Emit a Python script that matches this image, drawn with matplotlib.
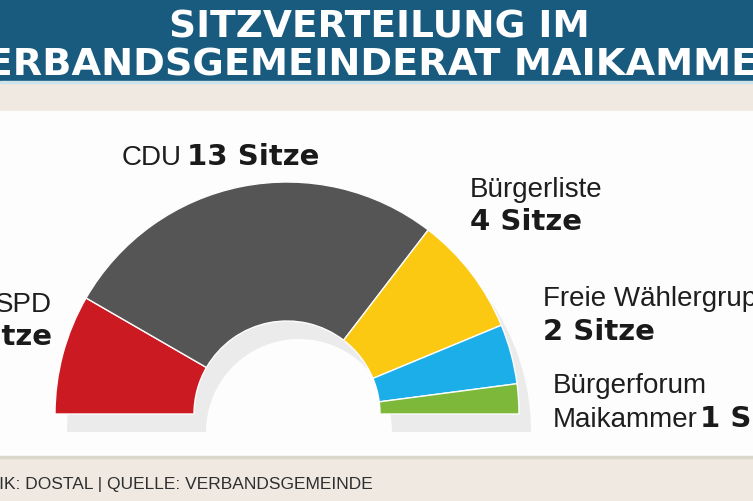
import matplotlib.pyplot as plt
from matplotlib.patches import Rectangle

# seat distribution
parties = ["SPD", "CDU", "Bürgerliste", "Freie Wählergruppe", "Bürgerforum\nMaikammer"]
seats = [4, 13, 4, 2, 1]
colors = ["#cc1a22", "#555556", "#fbc911", "#1baee9", "#7db83a"]
seat_labels = ["4 Sitze", "13 Sitze", "4 Sitze", "2 Sitze", "1 Sitz"]

title1 = "SITZVERTEILUNG IM"
title2 = "VERBANDSGEMEINDERAT MAIKAMMER"
source = "GRAFIK: DOSTAL | QUELLE: VERBANDSGEMEINDE"

W, H = 753, 502
fig = plt.figure(figsize=(7.53, 5.02), dpi=100)
fig.patch.set_facecolor("#efe9e2")
ax = fig.add_axes([0, 0, 1, 1])

# background pieces (pixel coords, y up)
ax.add_patch(Rectangle((0, H - 82), W, 82, color="#185b7f", zorder=0))
ax.add_patch(Rectangle((0, H - 84), W, 2, color="#cfe3ea", zorder=0))
ax.add_patch(Rectangle((0, 45), W, H - 112 - 45, color="#fdfdfd", zorder=0))
ax.add_patch(Rectangle((0, 43), W, 2, color="#d9d7c8", zorder=0))

total = sum(seats)
cx, cy, r_out, r_in = 287, 87, 232, 93

# shadow
sh, _ = ax.pie([total, total], colors=["#ebebeb", "none"], startangle=180,
               counterclock=False, radius=r_out, center=(cx + 12, cy - 18),
               wedgeprops=dict(width=r_out - r_in, linewidth=0), frame=True)
for w in sh:
    w.set_zorder(1)

# half donut: an invisible half fills the lower part
wedges, _ = ax.pie(seats + [total], colors=colors + ["none"], startangle=180,
                   counterclock=False, radius=r_out, center=(cx, cy),
                   wedgeprops=dict(width=r_out - r_in, edgecolor="#fdfdfd", linewidth=1),
                   frame=True)
for w in wedges:
    w.set_zorder(2)
wedges[-1].set_visible(False)

ax.set_xlim(0, W)
ax.set_ylim(0, H)
ax.set_aspect("auto")
ax.axis("off")

# title
tfont = dict(family="DejaVu Sans", weight="bold", size=27, color="white", ha="center")
ax.text(379, H - 37, title1, va="baseline", **tfont)
ax.text(372, H - 76, title2, va="baseline", size=27.5,
        **{k: v for k, v in tfont.items() if k != "size"})

reg = dict(family="Liberation Sans", size=20, color="#1e1e1e", va="baseline")
bold = dict(family="DejaVu Sans", weight="bold", size=21, color="#1a1a1a", va="baseline")

# SPD
ax.text(52, H - 312, parties[0], ha="right", **reg)
ax.text(52, H - 345, seat_labels[0], ha="right", **bold)
# CDU
ax.text(122, H - 165, parties[1], ha="left", **reg)
ax.text(187, H - 165, seat_labels[1], ha="left", **bold)
# Bürgerliste
ax.text(470, H - 197, parties[2], ha="left", **reg)
ax.text(470, H - 230, seat_labels[2], ha="left", **bold)
# Freie Wählergruppe
ax.text(543, H - 306, parties[3], ha="left", **reg)
ax.text(543, H - 340, seat_labels[3], ha="left", **bold)
# Bürgerforum Maikammer
l1, l2 = parties[4].split("\n")
ax.text(553, H - 393, l1, ha="left", **reg)
ax.text(553, H - 427, l2, ha="left", **reg)
ax.text(700, H - 427, seat_labels[4], ha="left", **bold)

ax.text(373, 13, source, ha="right", va="baseline", family="Liberation Sans",
        size=12.5, color="#2e2e2e")

plt.savefig("out.png", dpi=100, facecolor=fig.get_facecolor())
